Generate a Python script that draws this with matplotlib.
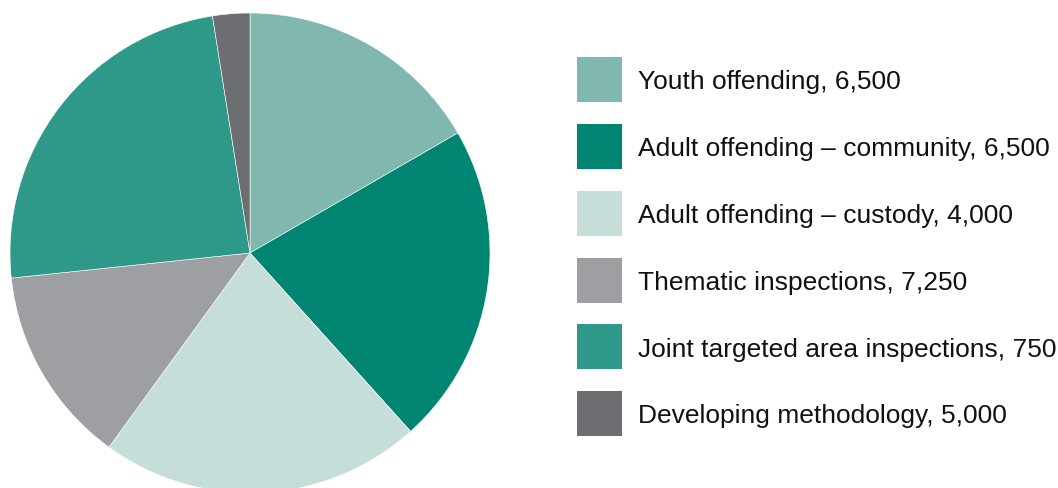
import matplotlib
matplotlib.use("Agg")
import matplotlib.pyplot as plt
from matplotlib.patches import Rectangle

# legend entries (as printed in the source)
labels = ["Youth offending, 6,500",
          "Adult offending \u2013 community, 6,500",
          "Adult offending \u2013 custody, 4,000",
          "Thematic inspections, 7,250",
          "Joint targeted area inspections, 750",
          "Developing methodology, 5,000"]
# wedge sizes as drawn in the source pie (clockwise from 12 o'clock)
wedge_values = [5000, 6500, 6500, 4000, 7250, 750]
colors = ["#80b7ae", "#008573", "#c5ded9", "#9e9fa2", "#2f9989", "#6d6e72"]

W, H = 1058, 488
fig = plt.figure(figsize=(W / 100, H / 100), dpi=100)

# pie: centre (250, 253) px, radius 240 px
cx, cy, r = 250, 253, 240
ax = fig.add_axes([(cx - r) / W, (H - cy - r) / H, 2 * r / W, 2 * r / H])
ax.pie(wedge_values, colors=colors, startangle=90, counterclock=False,
       radius=1, wedgeprops=dict(edgecolor="white", linewidth=0.4))
ax.set_xlim(-1, 1)
ax.set_ylim(-1, 1)
ax.set_aspect("equal")
ax.axis("off")

# legend drawn in pixel coordinates
lg = fig.add_axes([0, 0, 1, 1])
lg.set_xlim(0, W)
lg.set_ylim(H, 0)
lg.axis("off")
box_y = [79.5, 146, 213, 280, 346.5, 413]
for lab, col, y in zip(labels, colors, box_y):
    lg.add_patch(Rectangle((577, y - 22.5), 45, 45, facecolor=col, edgecolor="none"))
    lg.text(638, y + 10, lab, fontsize=19, family="Liberation Sans",
            color="#111111", va="baseline", ha="left")

fig.savefig("out.png", dpi=100)
